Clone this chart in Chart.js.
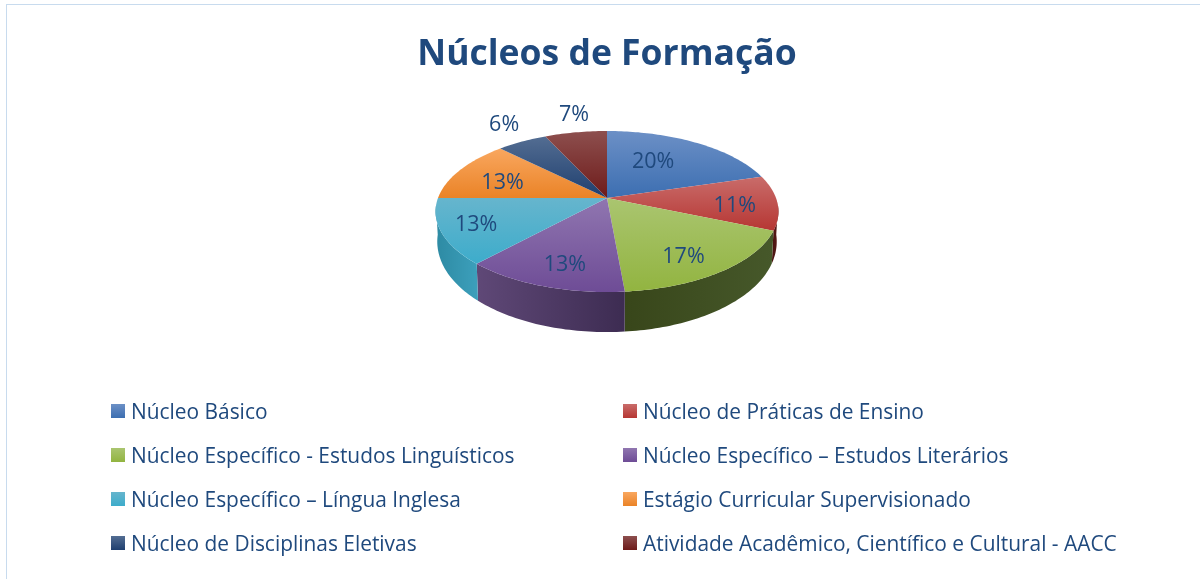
<!DOCTYPE html>
<html>
<head>
<meta charset="utf-8">
<title>Núcleos de Formação</title>
<script src="https://cdn.jsdelivr.net/npm/chart.js@4/dist/chart.umd.min.js"></script>
<style>
  html, body { margin: 0; padding: 0; background: #fff; width: 1200px; height: 579px; overflow: hidden; }
  #frame { position: absolute; left: 6px; top: 4px; width: 1194px; height: 575px; border-left: 1px solid #c8dbee; border-top: 1px solid #c8dbee; box-sizing: border-box; overflow: hidden; }
  #pie { position: absolute; left: 0; top: 0; }
  #legend { position: absolute; left: 111px; top: 389px; display: grid; grid-template-columns: 512px 512px; grid-auto-rows: 44px; font: 20.9px "Open Sans", sans-serif; color: #1f497d; }
  .item { display: flex; align-items: center; white-space: nowrap; }
  .swatch { width: 14px; height: 14px; margin-right: 6px; flex: none; }
</style>
</head>
<body>
<div id="frame"><canvas id="pie" width="1200" height="575"></canvas></div>
<div id="legend"></div>
<script>
const categories = [
  'Núcleo Básico',
  'Núcleo de Práticas de Ensino',
  'Núcleo Específico - Estudos Linguísticos',
  'Núcleo Específico – Estudos Literários',
  'Núcleo Específico – Língua Inglesa',
  'Estágio Curricular Supervisionado',
  'Núcleo de Disciplinas Eletivas',
  'Atividade Acadêmico, Científico e Cultural - AACC'
];
const shares = [20.4, 11, 17.2, 13.2, 13.2, 12.5, 5.6, 6.9];

const lightColors = ['#6c90c6', '#c96c6a', '#aac570', '#9076b0', '#66b5cd', '#f9a75f', '#536d92', '#8d4f4e'];
const darkColors = ['#3c6eb1', '#b63633', '#92b440', '#6e4c96', '#3daccb', '#ea8327', '#1f3f6f', '#6e1b1a'];
const sideColors = [null, ['#4c1512', '#5c1a18'], ['#38461a', '#46582a'], ['#5f4877', '#3d2c52'], ['#2d8aa3', '#3c9fbb'], null, null, null];

// label placement: fraction of the radius, and nudge off the slice's middle (degrees)
const labelRadius = [0.58, 0.75, 0.78, 0.78, 0.8, 0.67, 1.33, 1.31];
const labelNudge = [-6, 4, 5, -2.5, 0, -5, 2, 2];

const labelFont = '21.5px "Open Sans", sans-serif';
const perspective = 0.168;
const stretchX = 2.195;
const stretchY = 1.016;

// angle from chart.js -> screen point on the tilted disc
function project(arc, angle, frac) {
  const u = Math.cos(angle) * frac, v = Math.sin(angle) * frac;
  const w = 1 - perspective * v;
  return {
    x: arc.x + arc.outerRadius * stretchX * u / w,
    y: arc.y + arc.outerRadius * stretchY * v / w,
    v: v
  };
}

function rimPoint(arc, angle) {
  const p = project(arc, angle, 1);
  const depth = arc.outerRadius * (0.364 + 0.156 * Math.max(p.v, 0));
  return { x: arc.x + (p.x - arc.x) * 0.99, y: p.y + depth };
}

function arcSteps(a, b) {
  const pts = [];
  const n = Math.max(2, Math.ceil((b - a) / 0.02));
  for (let i = 0; i <= n; i++) pts.push(a + (b - a) * i / n);
  return pts;
}

const tiltedPie = {
  id: 'tiltedPie',
  beforeDatasetDraw(chart) {
    const ctx = chart.ctx;
    const arcs = chart.getDatasetMeta(0).data;
    // visible rim runs between the right and left edges of the disc
    const rimStart = Math.PI * 0.03;
    const rimEnd = Math.PI * 0.97;

    arcs.forEach((arc, i) => {
      if (!sideColors[i]) return;
      const a = Math.max(arc.startAngle, rimStart);
      const b = Math.min(arc.endAngle, rimEnd);
      if (b <= a) return;
      const steps = arcSteps(a, b);
      const top = steps.map(t => project(arc, t, 1));
      const bottom = steps.map(t => rimPoint(arc, t)).reverse();
      const xs = top.map(p => p.x);
      const grad = ctx.createLinearGradient(Math.min(...xs), 0, Math.max(...xs), 0);
      grad.addColorStop(0, sideColors[i][0]);
      grad.addColorStop(1, sideColors[i][1]);
      ctx.beginPath();
      top.concat(bottom).forEach((p, k) => k ? ctx.lineTo(p.x, p.y) : ctx.moveTo(p.x, p.y));
      ctx.closePath();
      ctx.fillStyle = grad;
      ctx.fill();
    });

    arcs.forEach((arc, i) => {
      const edge = arcSteps(arc.startAngle, arc.endAngle).map(t => project(arc, t, 1));
      const ys = edge.map(p => p.y).concat(arc.y);
      const grad = ctx.createLinearGradient(0, Math.min(...ys), 0, Math.max(...ys));
      grad.addColorStop(0, lightColors[i]);
      grad.addColorStop(1, darkColors[i]);
      ctx.beginPath();
      ctx.moveTo(arc.x, arc.y);
      edge.forEach(p => ctx.lineTo(p.x, p.y));
      ctx.closePath();
      ctx.fillStyle = grad;
      ctx.fill();
    });

    ctx.font = labelFont;
    ctx.fillStyle = '#1f497d';
    ctx.textAlign = 'center';
    ctx.textBaseline = 'middle';
    arcs.forEach((arc, i) => {
      const mid = (arc.startAngle + arc.endAngle) / 2 + labelNudge[i] * Math.PI / 180;
      const p = project(arc, mid, labelRadius[i]);
      ctx.fillText(Math.round(shares[i]) + '%', p.x, p.y);
    });
    return false;
  }
};

new Chart(document.getElementById('pie'), {
  type: 'pie',
  data: {
    labels: categories,
    datasets: [{ data: shares, backgroundColor: darkColors, borderWidth: 0 }]
  },
  plugins: [tiltedPie],
  options: {
    responsive: false,
    animation: false,
    layout: { padding: { bottom: 305 } },
    plugins: {
      legend: { display: false },
      tooltip: { enabled: false },
      title: {
        display: true,
        text: 'Núcleos de Formação',
        color: '#1f497d',
        font: { family: '"Open Sans", sans-serif', size: 35.5, weight: 'bold' },
        padding: { top: 28.5, bottom: 44.9 }
      }
    }
  }
});

const legend = document.getElementById('legend');
categories.forEach((name, i) => {
  const item = document.createElement('div');
  item.className = 'item';
  const swatch = document.createElement('span');
  swatch.className = 'swatch';
  swatch.style.background = `linear-gradient(${lightColors[i]}, ${darkColors[i]})`;
  item.appendChild(swatch);
  item.appendChild(document.createTextNode(name));
  legend.appendChild(item);
});
</script>
</body>
</html>
